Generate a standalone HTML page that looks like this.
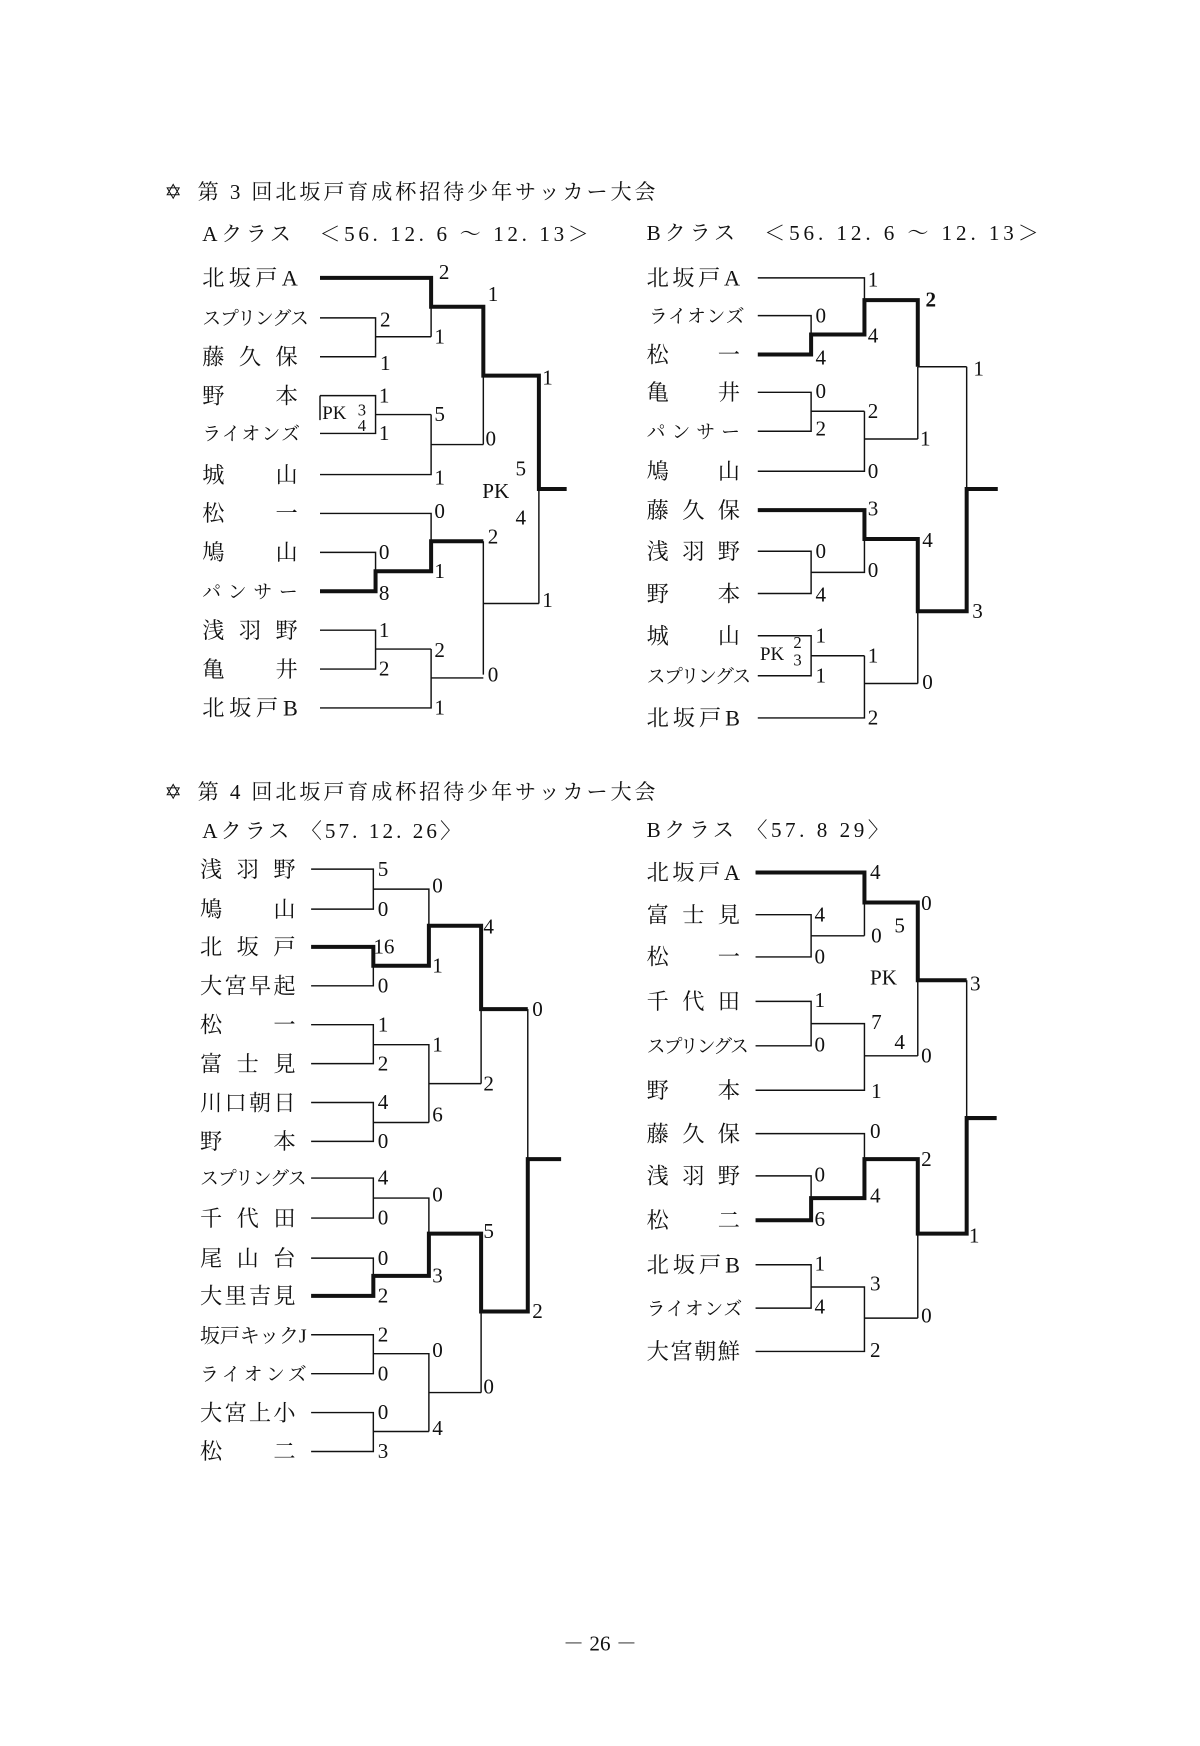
<!DOCTYPE html>
<html><head><meta charset="utf-8"><style>
html,body{margin:0;padding:0;background:#fff}
svg{display:block}
text{font-family:"Liberation Serif","Noto Serif CJK JP","Noto Serif CJK SC",serif;fill:#111}
.t{fill:none;stroke:#111;stroke-width:1.3}
.k{fill:none;stroke:#111;stroke-width:3.6}
.n{font-size:20px}
.s{font-size:19px}
.h{font-size:19px}
</style></head><body>
<svg width="1200" height="1746" viewBox="0 0 1080 1571" preserveAspectRatio="none" xmlns="http://www.w3.org/2000/svg">
<!-- Section 1 titles -->
<text class="h" x="148" y="179">✡</text>
<text class="h" x="178" y="179" textLength="412">第 3 回北坂戸育成杯招待少年サッカー大会</text>
<text class="h" x="182" y="217" textLength="348">Aクラス　＜56. 12. 6 ～ 12. 13＞</text>
<text class="h" x="582" y="216" textLength="353">Bクラス　＜56. 12. 6 ～ 12. 13＞</text>

<!-- 1A lines -->
<path class="t" d="M288 286H338V321H288M338 303H388M388 250V303M288 356H338V390H288M288 356V378M338 373H388M288 427H388V373M388 400H435M435 276V400M288 462H388V514M288 497H338V532M288 567H338V602H288M338 584H388M288 637H388V584M388 610H435M435 487V607M435 543H485M485 338V543"/>
<path class="k" d="M288 250H388V276H435V338H485V440H510M288 532H338V514H388V487H435"/>
<g class="n">
<text x="182" y="257" textLength="86">北坂戸A</text>
<text x="182" y="292" textLength="96" style="font-size:17px">スプリングス</text>
<text x="182" y="328" textLength="86">藤久保</text>
<text x="182" y="363" textLength="86">野本</text>
<text x="182" y="396" textLength="88" style="font-size:17px">ライオンズ</text>
<text x="182" y="434" textLength="86">城山</text>
<text x="182" y="469" textLength="86">松一</text>
<text x="182" y="504" textLength="86">鳩山</text>
<text x="182" y="538" textLength="86" style="font-size:17px">パンサー</text>
<text x="182" y="574" textLength="86">浅羽野</text>
<text x="182" y="609" textLength="86">亀井</text>
<text x="182" y="644" textLength="86">北坂戸B</text>
</g>
<g class="s">
<text x="342" y="294">2</text><text x="342" y="333">1</text>
<text x="395" y="251">2</text><text x="391" y="309">1</text>
<text x="290" y="377" style="font-size:17px">PK</text><text x="322" y="374" style="font-size:15px">3</text><text x="322" y="388" style="font-size:15px">4</text>
<text x="341" y="362">1</text><text x="341" y="396">1</text>
<text x="391" y="379">5</text><text x="391" y="436">1</text>
<text x="439" y="271">1</text><text x="437" y="401">0</text>
<text x="391" y="466">0</text><text x="391" y="520">1</text>
<text x="341" y="503">0</text><text x="341" y="540">8</text>
<text x="341" y="573">1</text><text x="341" y="608">2</text>
<text x="391" y="591">2</text><text x="391" y="643">1</text>
<text x="439" y="489">2</text><text x="439" y="613">0</text>
<text x="488" y="346">1</text><text x="488" y="546">1</text>
<text x="464" y="428">5</text><text x="434" y="448">PK</text><text x="464" y="472">4</text>
</g>

<!-- 1B lines -->
<path class="t" d="M682 250H778V301M682 284H730V319M682 353H730V388H682M730 370H778M682 424H778V370M778 395H826M826 330V395M826 330H870M682 496H730V534H682M730 515H778V459M682 572H730V608H682M730 590H778M682 646H778V590M778 615H826M826 485V615M870 330V550"/>
<path class="k" d="M682 319H730V301H778V270H826V330M682 459H778V485H826V550H870V440H898"/>
<g class="n">
<text x="582" y="257" textLength="84">北坂戸A</text>
<text x="584" y="290" textLength="86" style="font-size:17px">ライオンズ</text>
<text x="582" y="326" textLength="84">松一</text>
<text x="582" y="360" textLength="84">亀井</text>
<text x="582" y="394" textLength="84" style="font-size:17px">パンサー</text>
<text x="582" y="431" textLength="84">鳩山</text>
<text x="582" y="466" textLength="84">藤久保</text>
<text x="582" y="503" textLength="84">浅羽野</text>
<text x="582" y="541" textLength="84">野本</text>
<text x="582" y="579" textLength="84">城山</text>
<text x="582" y="614" textLength="94" style="font-size:17px">スプリングス</text>
<text x="582" y="653" textLength="84">北坂戸B</text>
</g>
<g class="s">
<text x="781" y="258">1</text><text x="781" y="308">4</text>
<text x="734" y="290">0</text><text x="734" y="328">4</text>
<text x="833" y="276" style="font-weight:bold">2</text>
<text x="734" y="358">0</text><text x="734" y="392">2</text>
<text x="781" y="376">2</text><text x="781" y="430">0</text>
<text x="828" y="401">1</text><text x="876" y="338">1</text>
<text x="781" y="464">3</text><text x="734" y="502">0</text><text x="734" y="541">4</text>
<text x="781" y="519">0</text><text x="830" y="492">4</text>
<text x="684" y="594" style="font-size:17px">PK</text><text x="714" y="583" style="font-size:15px">2</text><text x="714" y="599" style="font-size:15px">3</text>
<text x="734" y="578">1</text><text x="734" y="614">1</text>
<text x="781" y="596">1</text><text x="781" y="652">2</text>
<text x="830" y="620">0</text><text x="875" y="556">3</text>
</g>

<!-- Section 2 titles -->
<text class="h" x="148" y="719">✡</text>
<text class="h" x="178" y="719" textLength="412">第 4 回北坂戸育成杯招待少年サッカー大会</text>
<text class="h" x="182" y="754" textLength="233">Aクラス 〈57. 12. 26〉</text>
<text class="h" x="582" y="753" textLength="218">Bクラス 〈57. 8 29〉</text>

<!-- 2A lines -->
<path class="t" d="M280 782H336V818H280M336 800H386V869M280 887H336V852M280 922H336V957H280M336 940H386V1010M280 992H336V1027H280M336 1010H386M386 975H433M433 833V975M280 1060H336V1096H280M336 1078H386V1148M280 1132H336V1166M280 1201H336V1236H280M336 1218H386V1288M280 1271H336V1306H280M336 1288H386M386 1253H433M433 1110V1253M475 908V1180"/>
<path class="k" d="M280 852H336V869H386V833H433V908H475M280 1166H336V1148H386V1110H433V1180H475V1043H505"/>
<g class="n">
<text x="180" y="789" textLength="86">浅羽野</text>
<text x="180" y="825" textLength="86">鳩山</text>
<text x="180" y="859" textLength="86">北坂戸</text>
<text x="180" y="894" textLength="86">大宮早起</text>
<text x="180" y="929" textLength="86">松一</text>
<text x="180" y="964" textLength="86">富士見</text>
<text x="180" y="999" textLength="86">川口朝日</text>
<text x="180" y="1034" textLength="86">野本</text>
<text x="180" y="1066" textLength="96" style="font-size:17px">スプリングス</text>
<text x="180" y="1103" textLength="86">千代田</text>
<text x="180" y="1139" textLength="86">尾山台</text>
<text x="180" y="1173" textLength="86">大里吉見</text>
<text x="180" y="1208" textLength="96" style="font-size:18px">坂戸キックJ</text>
<text x="180" y="1242" textLength="96" style="font-size:17px">ライオンズ</text>
<text x="180" y="1278" textLength="86">大宮上小</text>
<text x="180" y="1313" textLength="86">松二</text>
</g>
<g class="s">
<text x="340" y="788">5</text><text x="340" y="824">0</text><text x="389" y="803">0</text>
<text x="336" y="858">16</text><text x="340" y="893">0</text><text x="389" y="875">1</text>
<text x="435" y="840">4</text>
<text x="340" y="928">1</text><text x="340" y="963">2</text><text x="389" y="946">1</text>
<text x="340" y="998">4</text><text x="340" y="1033">0</text><text x="389" y="1009">6</text>
<text x="435" y="981">2</text><text x="479" y="914">0</text>
<text x="340" y="1066">4</text><text x="340" y="1102">0</text><text x="389" y="1081">0</text>
<text x="340" y="1138">0</text><text x="340" y="1172">2</text><text x="389" y="1154">3</text>
<text x="435" y="1114">5</text>
<text x="340" y="1207">2</text><text x="340" y="1242">0</text><text x="389" y="1221">0</text>
<text x="340" y="1277">0</text><text x="340" y="1312">3</text><text x="389" y="1291">4</text>
<text x="435" y="1254">0</text><text x="479" y="1186">2</text>
</g>

<!-- 2B lines -->
<path class="t" d="M680 785H778V842M680 823H730V861H680M730 842H778M826 812V950M680 901H730V941H680M730 921H778V981H680M778 950H826M680 1020H778V1078M680 1058H730V1098M680 1138H730V1177H680M730 1158H778V1216H680M778 1186H826M826 1043V1186M870 882V1110"/>
<path class="k" d="M680 785H778V812H826V882H870M680 1098H730V1078H778V1043H826V1110H870V1006H897"/>
<g class="n">
<text x="582" y="792" textLength="84">北坂戸A</text>
<text x="582" y="830" textLength="84">富士見</text>
<text x="582" y="868" textLength="84">松一</text>
<text x="582" y="908" textLength="84">千代田</text>
<text x="582" y="947" textLength="92" style="font-size:17px">スプリングス</text>
<text x="582" y="988" textLength="84">野本</text>
<text x="582" y="1027" textLength="84">藤久保</text>
<text x="582" y="1065" textLength="84">浅羽野</text>
<text x="582" y="1105" textLength="84">松二</text>
<text x="582" y="1145" textLength="84">北坂戸B</text>
<text x="582" y="1183" textLength="86" style="font-size:17px">ライオンズ</text>
<text x="582" y="1223" textLength="84">大宮朝鮮</text>
</g>
<g class="s">
<text x="783" y="791">4</text><text x="733" y="829">4</text><text x="733" y="867">0</text>
<text x="784" y="848">0</text><text x="805" y="839">5</text><text x="783" y="886">PK</text>
<text x="829" y="819">0</text><text x="873" y="891">3</text>
<text x="733" y="906">1</text><text x="733" y="946">0</text>
<text x="784" y="926">7</text><text x="784" y="988">1</text><text x="805" y="944">4</text>
<text x="829" y="956">0</text>
<text x="783" y="1024">0</text><text x="733" y="1063">0</text><text x="733" y="1103">6</text>
<text x="783" y="1082">4</text><text x="829" y="1049">2</text>
<text x="733" y="1143">1</text><text x="733" y="1182">4</text>
<text x="783" y="1161">3</text><text x="783" y="1221">2</text>
<text x="829" y="1190">0</text><text x="872" y="1118">1</text>
</g>

<text class="h" x="540" y="1485" text-anchor="middle">－ 26 －</text>
</svg>
</body></html>
